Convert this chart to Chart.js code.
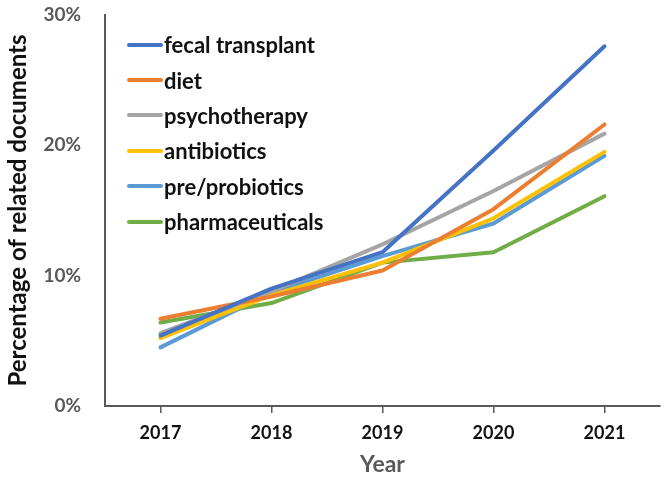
<!DOCTYPE html>
<html lang="en">
<head>
    <meta charset="UTF-8">
    <title>Percentage of related documents</title>
    <style>
        * { margin: 0; padding: 0; box-sizing: border-box; }
        body { background: #fff; font-family: 'Lato', sans-serif; }
        .wrap { position: relative; width: 666px; height: 482px; }
        .legend { position: absolute; left: 127px; top: 27px; }
        .legend-item { display: flex; align-items: center; height: 35.4px; font-weight: 700; font-size: 22px; color: #111; }
        .legend-item span.swatch { display: inline-block; width: 36px; height: 4px; border-radius: 2px; margin-right: 1px; }
    </style>
    <script src="https://cdn.jsdelivr.net/npm/chart.js"></script>
</head>
<body>
    <div class="wrap">
        <canvas id="chart" width="666" height="482"></canvas>
        <div class="legend" id="legend"></div>
    </div>

    <script>
        const years = ["2017", "2018", "2019", "2020", "2021"];
        const seriesNames = ["fecal transplant", "diet", "psychotherapy", "antibiotics", "pre/probiotics", "pharmaceuticals"];
        const fecalTransplant = [5.4, 9.0, 11.8, 19.6, 27.6];
        const diet = [6.7, 8.4, 10.4, 15.1, 21.6];
        const psychotherapy = [5.6, 8.8, 12.4, 16.5, 20.9];
        const antibiotics = [5.2, 8.5, 11.0, 14.4, 19.5];
        const preProbiotics = [4.5, 8.7, 11.5, 14.0, 19.2];
        const pharmaceuticals = [6.4, 7.9, 11.0, 11.8, 16.1];
        const yTicks = [0, 10, 20, 30];
        const colors = ["#4472C4", "#ED7D31", "#A5A5A5", "#FFC000", "#5B9BD5", "#70AD47"];

        const allSeries = [fecalTransplant, diet, psychotherapy, antibiotics, preProbiotics, pharmaceuticals];

        const datasets = allSeries.map((values, i) => ({
            label: seriesNames[i],
            data: values,
            borderColor: colors[i],
            backgroundColor: colors[i],
            borderWidth: 4,
            pointRadius: 0,
            tension: 0,
            borderCapStyle: "round",
            borderJoinStyle: "round",
            clip: false
        }));

        // legend sits inside the plot, so it is plain HTML over the canvas
        const legendEl = document.getElementById("legend");
        seriesNames.forEach((name, i) => {
            const row = document.createElement("div");
            row.className = "legend-item";
            const sw = document.createElement("span");
            sw.className = "swatch";
            sw.style.background = colors[i];
            const txt = document.createElement("span");
            txt.textContent = name;
            row.appendChild(sw);
            row.appendChild(txt);
            legendEl.appendChild(row);
        });

        const ctx = document.getElementById("chart").getContext("2d");
        new Chart(ctx, {
            type: "line",
            data: { labels: years, datasets: datasets },
            options: {
                responsive: false,
                animation: false,
                layout: { padding: { left: 0, right: 6, top: 15, bottom: 0 } },
                plugins: { legend: { display: false }, tooltip: { enabled: false } },
                scales: {
                    x: {
                        offset: true,
                        grid: { display: true, drawOnChartArea: false, offset: false, tickLength: 7, color: "#595959", lineWidth: 1.5 },
                        border: { display: true, color: "#595959", width: 2 },
                        ticks: { color: "#111", padding: 9, font: { family: "Lato", size: 18, weight: "bold" } },
                        title: { display: true, text: "Year", color: "#595959", padding: { top: 4 }, font: { family: "Lato", size: 23, weight: "bold" } },
                        afterFit: (scale) => { scale.height = 76; }
                    },
                    y: {
                        min: 0,
                        max: 30,
                        afterBuildTicks: (scale) => { scale.ticks = yTicks.map(v => ({ value: v })); },
                        grid: { display: false },
                        border: { display: true, color: "#595959", width: 2 },
                        ticks: {
                            color: "#595959",
                            padding: 16,
                            font: { family: "Lato", size: 19, weight: "bold" },
                            callback: (v) => v + "%"
                        },
                        title: { display: true, text: "Percentage of related documents", color: "#111", padding: { bottom: 0 }, font: { family: "Lato", size: 24, weight: "bold" } },
                        afterFit: (scale) => {
                            scale.width = 105;
                            scale.paddingTop = 0;
                            scale.paddingBottom = 0;
                        }
                    }
                }
            }
        });
    </script>
</body>
</html>
